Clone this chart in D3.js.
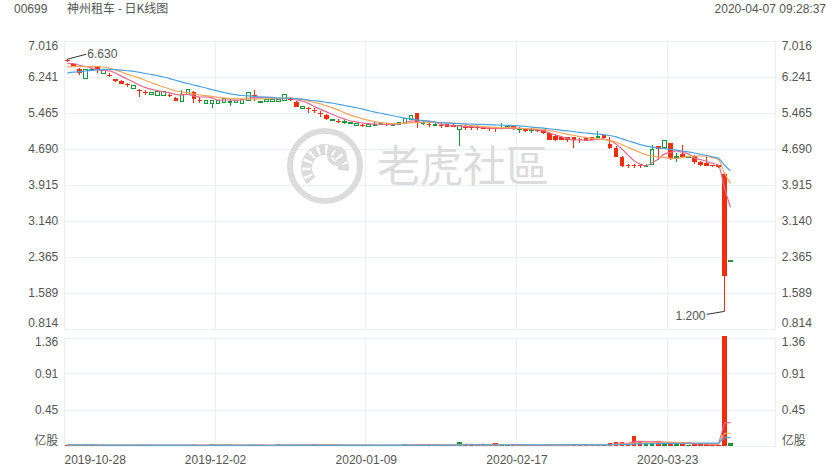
<!DOCTYPE html>
<html><head><meta charset="utf-8">
<script src="https://cdn.jsdelivr.net/npm/d3@7"></script>
<style>
html,body{margin:0;padding:0;background:#fff;}
svg{display:block;font-family:"Liberation Sans",Arial,"Noto Sans CJK SC",sans-serif;}
</style></head><body>
<svg id="c" width="840" height="470"></svg>
<script>
// ---------- data ----------
const dates = [
"2019-10-28","2019-10-29","2019-10-30","2019-10-31","2019-11-01","2019-11-04","2019-11-05","2019-11-06","2019-11-07","2019-11-08",
"2019-11-11","2019-11-12","2019-11-13","2019-11-14","2019-11-15","2019-11-18","2019-11-19","2019-11-20","2019-11-21","2019-11-22",
"2019-11-25","2019-11-26","2019-11-27","2019-11-28","2019-11-29","2019-12-02","2019-12-03","2019-12-04","2019-12-05","2019-12-06",
"2019-12-09","2019-12-10","2019-12-11","2019-12-12","2019-12-13","2019-12-16","2019-12-17","2019-12-18","2019-12-19","2019-12-20",
"2019-12-23","2019-12-24","2019-12-27","2019-12-30","2019-12-31","2020-01-02","2020-01-03","2020-01-06","2020-01-07","2020-01-08",
"2020-01-09","2020-01-10","2020-01-13","2020-01-14","2020-01-15","2020-01-16","2020-01-17","2020-01-20","2020-01-21","2020-01-22",
"2020-01-23","2020-01-24","2020-01-29","2020-01-30","2020-01-31","2020-02-03","2020-02-04","2020-02-05","2020-02-06","2020-02-07",
"2020-02-10","2020-02-11","2020-02-12","2020-02-13","2020-02-14","2020-02-17","2020-02-18","2020-02-19","2020-02-20","2020-02-21",
"2020-02-24","2020-02-25","2020-02-26","2020-02-27","2020-02-28","2020-03-02","2020-03-03","2020-03-04","2020-03-05","2020-03-06",
"2020-03-09","2020-03-10","2020-03-11","2020-03-12","2020-03-13","2020-03-16","2020-03-17","2020-03-18","2020-03-19","2020-03-20",
"2020-03-23","2020-03-24","2020-03-25","2020-03-26","2020-03-27","2020-03-30","2020-03-31","2020-04-01","2020-04-02","2020-04-03",
"2020-04-07"];
const openP = [
6.61,6.53,6.43,6.22,6.40,6.48,6.33,6.30,6.20,6.17,
6.10,6.00,5.96,5.92,5.86,5.84,5.84,5.87,5.80,5.72,
5.86,5.93,5.76,5.68,5.67,5.68,5.70,5.71,5.70,5.68,
5.75,5.87,5.71,5.72,5.72,5.72,5.75,5.78,5.71,5.57,
5.57,5.53,5.48,5.43,5.30,5.30,5.27,5.25,5.21,5.21,
5.19,5.22,5.24,5.24,5.22,5.22,5.25,5.34,5.465,5.24,
5.24,5.21,5.21,5.23,5.22,5.12,5.18,5.18,5.17,5.18,
5.15,5.14,5.13,5.17,5.19,5.13,5.12,5.10,5.12,5.12,
5.05,4.98,4.96,4.95,4.95,4.92,4.94,4.95,4.95,5.00,
4.80,4.72,4.53,4.345,4.345,4.345,4.34,4.37,4.76,4.73,
4.82,4.51,4.59,4.52,4.55,4.42,4.40,4.35,4.35,4.16,
2.28];
const highP = [
6.63,6.55,6.44,6.42,6.44,6.49,6.39,6.33,6.21,6.18,
6.12,6.08,5.99,5.97,5.93,5.94,5.95,5.90,5.81,5.97,
5.98,5.95,5.81,5.76,5.76,5.75,5.80,5.80,5.76,5.78,
5.93,5.97,5.74,5.78,5.78,5.78,5.87,5.82,5.72,5.63,
5.61,5.57,5.52,5.44,5.35,5.34,5.32,5.26,5.25,5.23,
5.24,5.27,5.26,5.26,5.25,5.27,5.37,5.42,5.47,5.30,
5.27,5.26,5.25,5.24,5.24,5.22,5.21,5.21,5.20,5.19,
5.16,5.16,5.25,5.19,5.20,5.18,5.14,5.14,5.13,5.13,
5.06,4.99,4.97,4.96,4.96,4.94,4.95,4.96,5.09,5.01,
4.96,4.76,4.54,4.37,4.37,4.37,4.38,4.78,4.77,4.88,
4.83,4.61,4.78,4.55,4.56,4.43,4.53,4.36,4.36,4.20,
2.29];
const lowP = [
6.58,6.46,6.29,6.21,6.38,6.33,6.32,6.24,6.14,6.09,
6.04,5.99,5.82,5.86,5.85,5.83,5.83,5.81,5.73,5.71,
5.85,5.68,5.68,5.67,5.57,5.67,5.69,5.62,5.69,5.67,
5.74,5.72,5.70,5.71,5.71,5.71,5.74,5.72,5.60,5.56,
5.48,5.47,5.38,5.33,5.29,5.25,5.24,5.24,5.20,5.16,
5.18,5.20,5.23,5.19,5.20,5.21,5.24,5.33,5.14,5.21,
5.18,5.19,5.14,5.17,5.17,4.76,5.10,5.10,5.10,5.12,
5.08,5.07,5.12,5.16,5.11,5.04,5.07,5.04,5.07,5.03,
4.88,4.87,4.88,4.85,4.71,4.82,4.87,4.88,4.93,4.92,
4.70,4.52,4.31,4.28,4.28,4.29,4.31,4.36,4.46,4.72,
4.45,4.42,4.51,4.50,4.37,4.34,4.32,4.31,4.29,1.20,
2.28];
const closeP = [
6.59,6.47,6.33,6.41,6.41,6.41,6.38,6.28,6.16,6.10,
6.08,6.07,5.94,5.90,5.92,5.93,5.93,5.85,5.74,5.86,
5.97,5.77,5.74,5.75,5.75,5.74,5.79,5.72,5.75,5.77,
5.92,5.85,5.73,5.77,5.77,5.77,5.86,5.76,5.61,5.62,
5.55,5.51,5.46,5.34,5.34,5.28,5.28,5.26,5.25,5.19,
5.23,5.23,5.25,5.22,5.23,5.26,5.36,5.41,5.25,5.26,
5.22,5.22,5.19,5.18,5.18,5.21,5.16,5.16,5.15,5.13,
5.13,5.12,5.15,5.18,5.12,5.14,5.08,5.11,5.08,5.04,
4.89,4.89,4.89,4.89,4.89,4.90,4.875,4.89,4.96,4.93,
4.71,4.53,4.33,4.33,4.33,4.33,4.35,4.69,4.69,4.875,
4.50,4.53,4.52,4.53,4.42,4.35,4.33,4.32,4.30,1.96,
2.29];
// volume, 亿股
const volume = [
0.015,0.012,0.018,0.014,0.008,0.010,0.007,0.009,0.011,0.010,
0.008,0.009,0.012,0.010,0.007,0.008,0.006,0.009,0.011,0.012,
0.010,0.013,0.009,0.008,0.022,0.008,0.007,0.009,0.006,0.008,
0.014,0.012,0.007,0.006,0.008,0.024,0.010,0.009,0.013,0.008,
0.010,0.030,0.011,0.014,0.008,0.009,0.007,0.006,0.008,0.009,
0.007,0.008,0.006,0.009,0.007,0.010,0.022,0.015,0.028,0.012,
0.010,0.008,0.011,0.012,0.010,0.050,0.014,0.012,0.010,0.013,
0.011,0.035,0.012,0.008,0.011,0.009,0.010,0.008,0.009,0.012,
0.020,0.016,0.012,0.011,0.030,0.012,0.013,0.010,0.015,0.018,
0.035,0.050,0.050,0.020,0.120,0.050,0.035,0.035,0.060,0.030,
0.040,0.030,0.025,0.018,0.030,0.024,0.020,0.018,0.016,1.385,
0.042];
// closes before the visible window (estimated from the MA lines' starting levels)
const priorCloses = [6.05,6.10,6.12,6.18,6.15,6.22,6.25,6.28,6.30,6.35,6.33,6.36,6.40,6.38,6.43,6.48,6.52,6.55,6.56];
const priceTicks = [7.016,6.241,5.465,4.690,3.915,3.140,2.365,1.589,0.814];
const volumeTicks = [1.36,0.91,0.45];
const dateTicks = ["2019-10-28","2019-12-02","2020-01-09","2020-02-17","2020-03-23"];
const maPeriods = [5,10,20];
const maColors = ["#e8698e","#f7a65b","#4da3df"];

// ---------- layout ----------
const svg = d3.select("#c");
const L = 64.3, R = 775.8, slots = 118;
const P_TOP = 41.3, P_BOT = 329.3, V_TOP = 338.3, V_BOT = 446;
const RED = "#f12d0e", GREEN = "#13973b", GRID = "#e6f1f8", TXT = "#555";

const x = d3.scaleLinear().domain([0, slots]).range([L, R]);
const cx = i => x(i + 0.5);
const yP = d3.scaleLinear().domain([0.814, 7.016]).range([P_BOT, P_TOP]);
const yV = d3.scaleLinear().domain([0, 1.36]).range([V_BOT, V_TOP]);

const data = dates.map((d, i) => ({i, d, o: openP[i], h: highP[i], l: lowP[i], c: closeP[i], v: volume[i]}));
const allC = priorCloses.concat(closeP);
const pOff = priorCloses.length;
const priceMA = maPeriods.map(n => data.map(d => d3.mean(allC.slice(pOff + d.i - n + 1, pOff + d.i + 1))));
const volMA = maPeriods.map(n => data.map(d => d3.mean(volume.slice(Math.max(0, d.i - n + 1), d.i + 1))));

// ---------- header ----------
svg.append("text").attr("x", 14).attr("y", 12.5).attr("font-size", 12).attr("fill", TXT).text("00699");
svg.append("text").attr("x", 67).attr("y", 12.5).attr("font-size", 12).attr("fill", TXT)
  .attr("font-family", "'Noto Sans CJK SC','Liberation Sans',sans-serif").text("神州租车 - 日K线图");
svg.append("text").attr("x", 826).attr("y", 12.5).attr("font-size", 12).attr("fill", TXT)
  .attr("text-anchor", "end").text("2020-04-07 09:28:37");

// ---------- grid ----------
const g = svg.append("g").attr("shape-rendering", "crispEdges");
priceTicks.forEach(t => g.append("line").attr("x1", L).attr("x2", R).attr("y1", yP(t)).attr("y2", yP(t)).attr("stroke", GRID));
volumeTicks.concat([0]).forEach(t => g.append("line").attr("x1", L).attr("x2", R).attr("y1", yV(t)).attr("y2", yV(t)).attr("stroke", GRID));
g.append("line").attr("x1", L).attr("x2", R).attr("y1", V_TOP).attr("y2", V_TOP).attr("stroke", GRID);
const tickIdx = dateTicks.map(t => dates.indexOf(t));
tickIdx.concat([slots]).forEach(i => {
  g.append("line").attr("x1", x(i)).attr("x2", x(i)).attr("y1", P_TOP).attr("y2", P_BOT).attr("stroke", GRID);
  g.append("line").attr("x1", x(i)).attr("x2", x(i)).attr("y1", V_TOP).attr("y2", V_BOT).attr("stroke", GRID);
});

// ---------- watermark ----------
const WM = "#dcdcdc";
const wm = svg.append("g").attr("fill", "none").attr("stroke", WM);
wm.append("circle").attr("cx", 325).attr("cy", 166).attr("r", 35).attr("stroke-width", 6);
const arcGen = d3.arc().innerRadius(13).outerRadius(24).startAngle(-2.3).endAngle(1.7);
wm.append("path").attr("transform", "translate(325,168)").attr("d", arcGen()).attr("fill", WM).attr("stroke", "none");
const arcIn = d3.arc().innerRadius(14).outerRadius(23);
d3.range(-2.1, 1.6, 0.42).forEach(a => {
  wm.append("path").attr("transform", "translate(325,168)")
    .attr("d", arcIn({startAngle: a, endAngle: a + 0.13})).attr("fill", "#fff").attr("stroke", "none");
});
wm.append("circle").attr("cx", 337).attr("cy", 156).attr("r", 8).attr("stroke-width", 4);
svg.append("text").attr("x", 377).attr("y", 182).attr("font-size", 43).attr("fill", WM)
  .attr("font-family", "'Noto Sans CJK TC','Noto Sans CJK SC',sans-serif").text("老虎社區");

// ---------- axes ----------
function styleAxis(sel) {
  sel.select(".domain").remove();
  sel.selectAll("text").attr("fill", TXT).attr("font-size", 12).attr("font-family", "'Liberation Sans',Arial,sans-serif");
}
const fmtP = d3.format(".3f");
const pShift = t => t === priceTicks[0] ? 4.4 : (t === priceTicks[priceTicks.length - 1] ? -6.3 : 0);
[[d3.axisLeft, L], [d3.axisRight, R]].forEach(([ax, pos]) => {
  const a = svg.append("g").attr("transform", `translate(${pos},0)`)
    .call(ax(yP).tickValues(priceTicks).tickFormat(fmtP).tickSize(0).tickPadding(6));
  styleAxis(a);
  a.selectAll(".tick").attr("transform", t => `translate(0,${yP(t) + pShift(t)})`);
  const v = svg.append("g").attr("transform", `translate(${pos},0)`)
    .call(ax(yV).tickValues(volumeTicks.concat([0])).tickFormat(t => t === 0 ? "亿股" : d3.format(".2f")(t)).tickSize(0).tickPadding(6));
  styleAxis(v);
  v.selectAll("text").filter(t => t === 0).attr("font-family", "'Noto Sans CJK SC',sans-serif");
  v.selectAll(".tick").attr("transform", t => `translate(0,${yV(t) + (t === 0 ? -5 : (t === volumeTicks[0] ? 3.7 : 0))})`);
});
// date axis
const xa = svg.append("g").attr("transform", `translate(0,${V_BOT})`)
  .call(d3.axisBottom(x).tickValues(tickIdx).tickFormat(i => dates[i]).tickSize(0).tickPadding(9));
styleAxis(xa);
xa.selectAll("text").filter(i => i === 0).attr("text-anchor", "start").attr("dx", -0.3);

// ---------- candles ----------
const bw = 4.6;
const cg = svg.append("g").attr("shape-rendering", "crispEdges");
data.forEach(d => {
  const up = d.c >= d.o;
  const col = up ? GREEN : RED;
  const X = cx(d.i);
  cg.append("line").attr("x1", X).attr("x2", X).attr("y1", yP(d.h)).attr("y2", yP(d.l)).attr("stroke", col);
  const top = yP(Math.max(d.o, d.c)), bot = yP(Math.min(d.o, d.c));
  const hgt = Math.max(1, bot - top);
  if (up) {
    cg.append("rect").attr("x", X - bw / 2 + 0.5).attr("y", top).attr("width", bw - 1).attr("height", hgt)
      .attr("fill", "#fff").attr("stroke", col);
  } else {
    cg.append("rect").attr("x", X - bw / 2).attr("y", top).attr("width", bw).attr("height", hgt).attr("fill", col);
  }
  cg.append("rect").attr("x", X - bw / 2).attr("y", yV(d.v)).attr("width", bw)
    .attr("height", Math.max(0.8, yV(0) - yV(d.v))).attr("fill", col);
});

// ---------- moving averages ----------
maPeriods.forEach((n, k) => {
  const line = d3.line().x((v, i) => cx(i)).y(v => yP(v)).curve(d3.curveMonotoneX);
  svg.append("path").attr("d", line(priceMA[k])).attr("fill", "none").attr("stroke", maColors[k]).attr("stroke-width", 1.2);
  const vline = d3.line().x((v, i) => cx(i)).y(v => yV(v));
  svg.append("path").attr("d", vline(volMA[k])).attr("fill", "none").attr("stroke", maColors[k]).attr("stroke-width", 1.2);
});

// ---------- max / min annotations ----------
const iMax = d3.maxIndex(highP), iMin = d3.minIndex(lowP);
{
  const X = cx(iMax), Y = yP(highP[iMax]);
  svg.append("line").attr("x1", X).attr("y1", Y).attr("x2", X + 19).attr("y2", Y - 5).attr("stroke", "#333");
  svg.append("text").attr("x", X + 20).attr("y", Y - 5).attr("dy", "0.35em").attr("font-size", 12).attr("fill", TXT).text(highP[iMax].toFixed(3));
}
{
  const X = cx(iMin), Y = yP(lowP[iMin]);
  svg.append("line").attr("x1", X).attr("y1", Y).attr("x2", X - 18).attr("y2", Y + 3).attr("stroke", "#333");
  svg.append("text").attr("x", X - 19).attr("y", Y + 4).attr("dy", "0.35em").attr("text-anchor", "end").attr("font-size", 12).attr("fill", TXT).text(lowP[iMin].toFixed(3));
}
</script>
</body></html>
